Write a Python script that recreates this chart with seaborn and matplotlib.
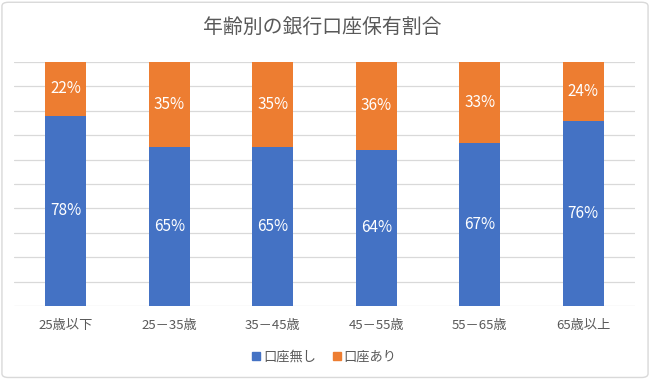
import matplotlib
matplotlib.use("Agg")
import matplotlib.pyplot as plt
import seaborn as sns
import pandas as pd
from matplotlib.patches import FancyBboxPatch
from matplotlib.lines import Line2D

categories = ["25歳以下", "25－35歳", "35－45歳", "45－55歳", "55－65歳", "65歳以上"]
no_account = [78, 65, 65, 64, 67, 76]
has_account = [22, 35, 35, 36, 33, 24]
series_names = ["口座無し", "口座あり"]

BLUE = "#4472C4"
ORANGE = "#ED7D31"
GRAY_TEXT = "#595959"

sns.set_theme(style="white")
plt.rcParams['font.family'] = ['Noto Sans CJK JP', 'DejaVu Sans']

fig = plt.figure(figsize=(6.5, 3.79), dpi=100)
ax = fig.add_axes([14/650, 1-306/379, (635-14)/650, (306-62)/379])

df = pd.DataFrame({
    "cat": categories,
    "no": no_account,
    "yes": has_account,
})
df["total"] = df["no"] + df["yes"]

sns.barplot(data=df, x="cat", y="total", color=ORANGE, width=0.4, ax=ax,
            saturation=1, linewidth=0)
sns.barplot(data=df, x="cat", y="no", color=BLUE, width=0.4, ax=ax,
            saturation=1, linewidth=0)

for i, (n, y) in enumerate(zip(no_account, has_account)):
    ax.text(i, n / 2, f"{n}%", ha="center", va="center", color="white", fontsize=11)
    ax.text(i, n + y / 2, f"{y}%", ha="center", va="center", color="white", fontsize=11)

ax.set_ylim(0, 100)
ax.set_xlim(-0.5, len(categories) - 0.5)
ax.set_yticks(range(0, 101, 10))
ax.set_yticklabels([])
ax.yaxis.grid(True, color="#D9D9D9", linewidth=0.9)
ax.set_axisbelow(True)
ax.tick_params(axis="both", length=0)
ax.tick_params(axis="x", labelsize=9.5, labelcolor=GRAY_TEXT, pad=9)
ax.set_xlabel("")
ax.set_ylabel("")
for s in ax.spines.values():
    s.set_visible(False)

fig.text(0.496, 1 - 27/379, "年齢別の銀行口座保有割合", ha="center", va="center",
         fontsize=14.3, color=GRAY_TEXT)

handles = [Line2D([], [], marker="s", linestyle="", color=BLUE, markersize=6),
           Line2D([], [], marker="s", linestyle="", color=ORANGE, markersize=6)]
fig.legend(handles, series_names, loc="center", bbox_to_anchor=(0.498, 1 - 357/379),
           ncol=2, frameon=False, fontsize=9.5, labelcolor=GRAY_TEXT,
           handletextpad=0.1, columnspacing=1.2, handlelength=0.8)

border = FancyBboxPatch((0.003, 0.004), 0.994, 0.99, boxstyle="round,pad=0,rounding_size=0.01",
                        transform=fig.transFigure, fill=False, edgecolor="#D9D9D9", linewidth=1)
fig.patches.append(border)

fig.savefig("out.png", dpi=100)
